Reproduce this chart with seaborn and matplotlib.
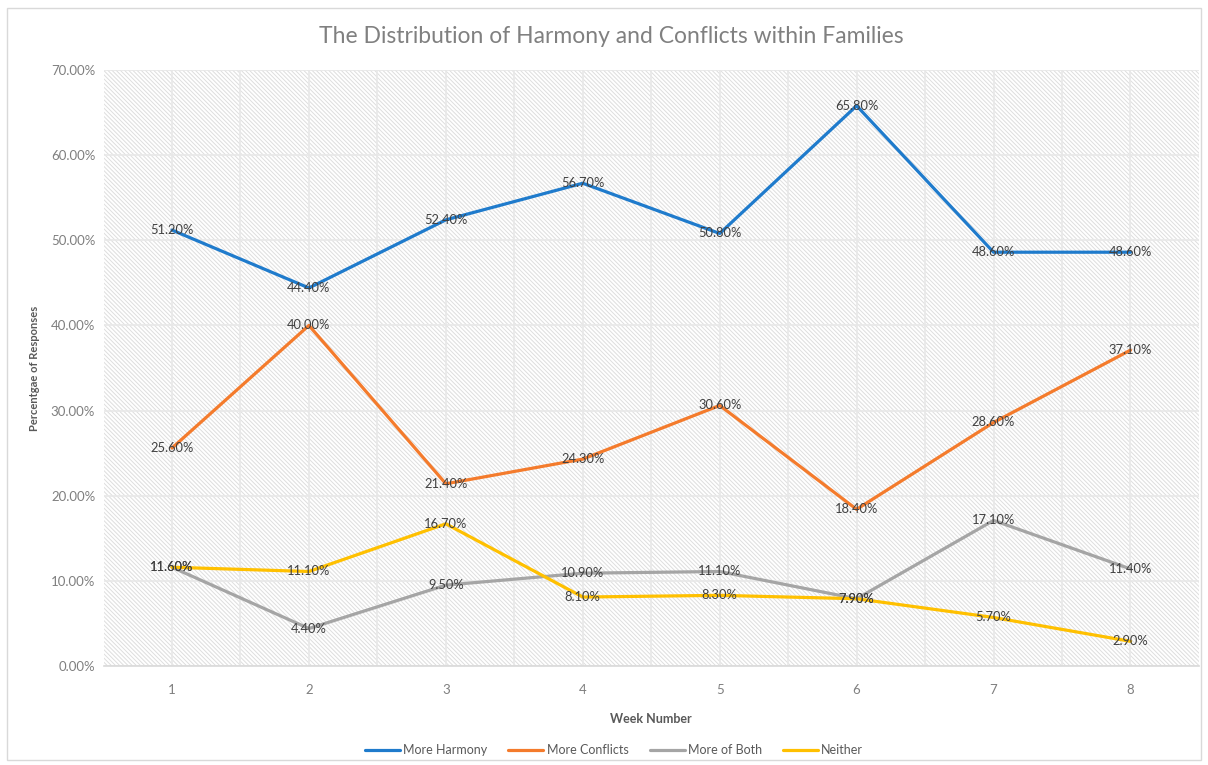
import matplotlib
matplotlib.use("Agg")
import matplotlib.pyplot as plt
from matplotlib.patches import Rectangle
from matplotlib.ticker import FuncFormatter, MultipleLocator, FixedLocator
import seaborn as sns
import pandas as pd

# Weekly survey shares (percent of responses)
weeks = [1, 2, 3, 4, 5, 6, 7, 8]
more_harmony = [51.2, 44.4, 52.4, 56.7, 50.8, 65.8, 48.6, 48.6]
more_conflicts = [25.6, 40.0, 21.4, 24.3, 30.6, 18.4, 28.6, 37.1]
more_of_both = [11.6, 4.4, 9.5, 10.9, 11.1, 7.9, 17.1, 11.4]
neither = [11.6, 11.1, 16.7, 8.1, 8.3, 7.9, 5.7, 2.9]

series_names = ["More Harmony", "More Conflicts", "More of Both", "Neither"]
series_values = [more_harmony, more_conflicts, more_of_both, neither]
series_colors = ["#1f7bcc", "#f47b2c", "#a5a5a5", "#ffc000"]

rows = []
for name, vals in zip(series_names, series_values):
    for w, v in zip(weeks, vals):
        rows.append({"Week": w, "Share": v / 100.0, "Series": name})
df = pd.DataFrame(rows)

sns.set_theme(style="white")
plt.rcParams["font.family"] = ["Lato", "DejaVu Sans"]
plt.rcParams["hatch.linewidth"] = 0.7

fig = plt.figure(figsize=(12.08, 7.65), dpi=100)
ax = fig.add_axes([0.0857, 0.1294, 0.9068, 0.7791])

# light border around the whole chart area
fig.patches.append(Rectangle((0.006, 0.006), 0.988, 0.984, transform=fig.transFigure,
                             fill=False, edgecolor="#d9d9d9", linewidth=1.0))

# fine diagonal hatched plot background
ax.set_facecolor("white")
ax.add_patch(Rectangle((0, 0), 1, 1, transform=ax.transAxes, facecolor="white",
                       edgecolor="#dedede", hatch="\\" * 8, linewidth=0, zorder=0))

sns.lineplot(data=df, x="Week", y="Share", hue="Series", hue_order=series_names,
             palette=series_colors, linewidth=2.3, ax=ax, legend=True, zorder=3)

# value labels centred on each point
for vals in series_values:
    for w, v in zip(weeks, vals):
        ax.text(w, v / 100.0, f"{v:.2f}%", ha="center", va="center",
                fontsize=9.3, color="#404040", zorder=5)

ax.set_xlim(0.5, 8.5)
ax.set_ylim(0, 0.70)
ax.xaxis.set_major_locator(FixedLocator(weeks))
ax.xaxis.set_minor_locator(FixedLocator([w + 0.5 for w in weeks[:-1]]))
ax.yaxis.set_major_locator(MultipleLocator(0.10))
ax.yaxis.set_major_formatter(FuncFormatter(lambda v, p: f"{v * 100:.2f}%"))

ax.grid(True, which="major", axis="both", color="#e8e8e8", linewidth=1.2, zorder=1)
ax.grid(True, which="minor", axis="x", color="#e8e8e8", linewidth=1.2, zorder=1)
ax.set_axisbelow(True)

for side in ["left", "right", "top"]:
    ax.spines[side].set_visible(False)
ax.spines["bottom"].set_color("#d9d9d9")
ax.spines["bottom"].set_linewidth(1.2)

ax.tick_params(axis="both", which="both", length=0, labelsize=9.5, labelcolor="#7f7f7f")
ax.tick_params(axis="x", pad=13)
ax.tick_params(axis="y", pad=6)

ax.set_xlabel("Week Number", fontsize=9, fontweight="bold", color="#595959", labelpad=12)
ax.set_ylabel("Percentgae of Responses", fontsize=8, fontweight="bold", color="#595959",
              labelpad=8)

fig.text(0.506, 0.952, "The Distribution of Harmony and Conflicts within Families",
         ha="center", va="center", fontsize=16.5, color="#808080")

leg = ax.legend(loc="center", bbox_to_anchor=(0.466, -0.141), ncol=4, frameon=False,
                fontsize=9, handlelength=2.8, handletextpad=0.25, columnspacing=1.7)
for t in leg.get_texts():
    t.set_color("#595959")
for h in leg.get_lines():
    h.set_linewidth(2.3)

fig.savefig("out.png", dpi=100)
